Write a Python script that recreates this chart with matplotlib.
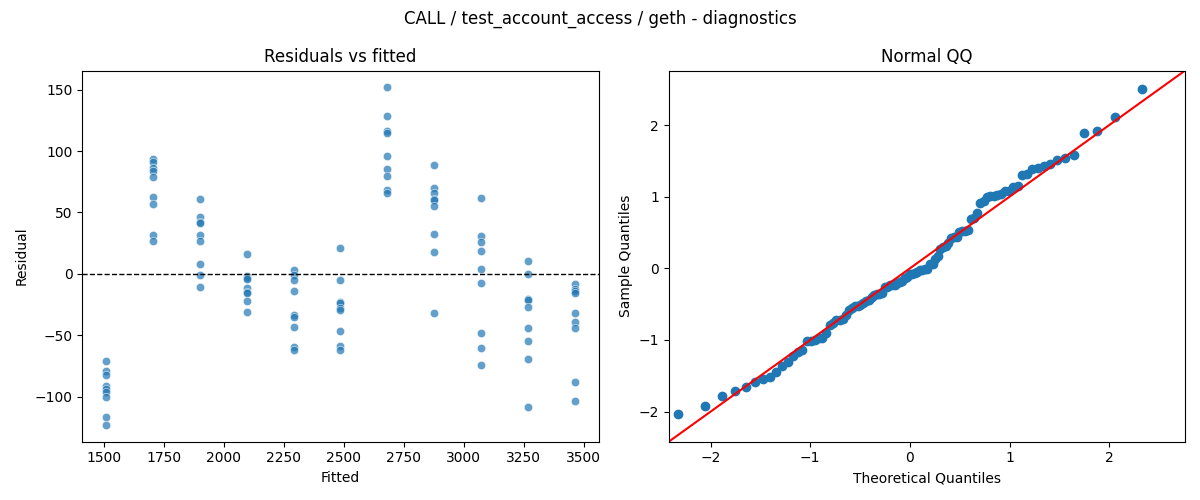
import numpy as np
import matplotlib
matplotlib.use("Agg")
import matplotlib.pyplot as plt
import seaborn as sns
from statistics import NormalDist

title = "CALL / test_account_access / geth - diagnostics"

fitted_levels = [1508, 1705, 1901, 2097, 2293, 2485, 2680, 2876, 3072, 3268, 3464]

resid_1508 = [-71.0, -78.9, -82.4, -91.6, -93.7, -95.9, -100.2, -116.5, -123.0]
resid_1705 = [93.2, 91.3, 86.4, 83.7, 79.1, 62.6, 56.7, 31.7, 26.6]
resid_1901 = [60.7, 46.3, 42.3, 41.5, 31.7, 26.6, 8.1, -1.1, -10.8]
resid_2097 = [16.3, -1.4, -3.0, -4.1, -11.7, -14.4, -15.7, -22.0, -30.9]
resid_2293 = [3.3, -0.8, -5.1, -13.8, -33.9, -35.5, -43.1, -59.3, -61.8]
resid_2485 = [20.9, -5.1, -23.0, -24.0, -28.0, -29.3, -46.3, -59.1, -61.8]
resid_2680 = [151.8, 128.2, 116.0, 114.4, 95.7, 85.1, 79.4, 68.3, 65.6]
resid_2876 = [88.4, 69.7, 65.6, 61.0, 60.2, 55.0, 32.3, 17.6, -32.0]
resid_3072 = [61.5, 30.6, 25.8, 18.4, 3.8, -7.6, -48.2, -60.4, -74.2]
resid_3268 = [10.3, -0.3, -20.6, -21.7, -27.1, -44.1, -54.7, -69.1, -108.4]
resid_3464 = [-8.1, -12.2, -14.1, -15.7, -32.0, -39.3, -44.1, -88.0, -103.5]

groups = [resid_1508, resid_1705, resid_1901, resid_2097, resid_2293, resid_2485,
          resid_2680, resid_2876, resid_3072, resid_3268, resid_3464]

fitted = np.concatenate([[f] * len(g) for f, g in zip(fitted_levels, groups)])
resid = np.concatenate([np.array(g) for g in groups])

fig, axes = plt.subplots(1, 2, figsize=(12, 5), dpi=100)

ax = axes[0]
sns.scatterplot(x=fitted, y=resid, ax=ax, alpha=0.7)
ax.axhline(0, color="black", linestyle="--", linewidth=1)
ax.set_title("Residuals vs fitted")
ax.set_xlabel("Fitted")
ax.set_ylabel("Residual")

ax = axes[1]
z = (resid - resid.mean()) / resid.std(ddof=1)
sample = np.sort(z)
n = len(sample)
nd = NormalDist()
theo = np.array([nd.inv_cdf(i / (n + 1)) for i in range(1, n + 1)])
ax.plot(theo, sample, "o", color="C0", markersize=6)
lims = [-2.42, 2.76]
ax.plot(lims, lims, color="red")
ax.set_xlim(lims)
ax.set_ylim(lims)
ax.set_title("Normal QQ")
ax.set_xlabel("Theoretical Quantiles")
ax.set_ylabel("Sample Quantiles")

fig.suptitle(title)
fig.tight_layout()
fig.savefig("out.png")
